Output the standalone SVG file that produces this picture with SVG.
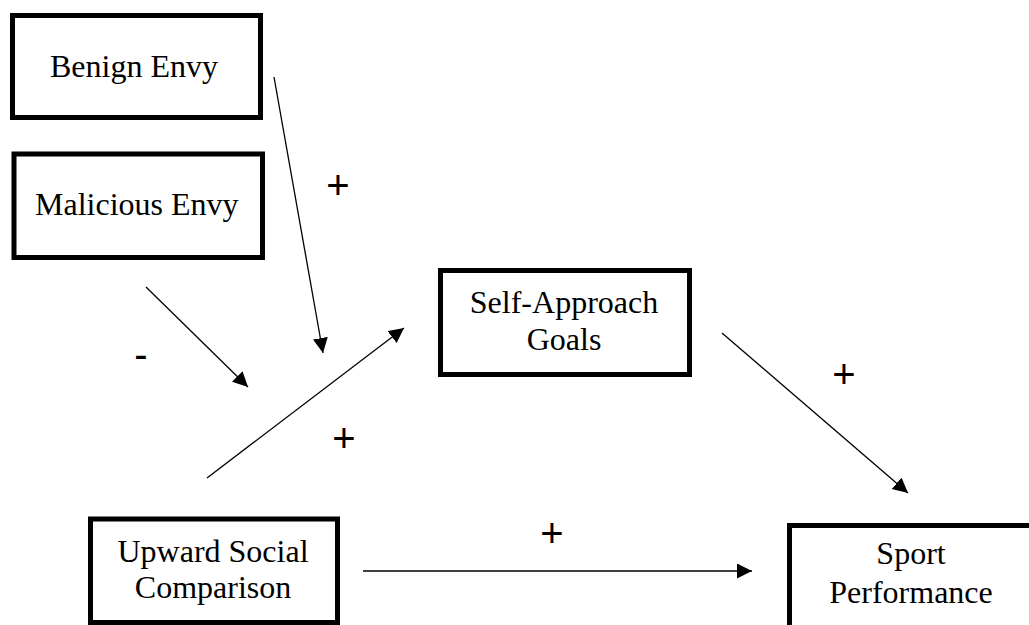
<svg xmlns="http://www.w3.org/2000/svg" width="1029" height="625" viewBox="0 0 1029 625">
<style>
.box{fill:#fff;stroke:#000;stroke-width:5}
.lbl{font-family:"Liberation Serif","Times New Roman",serif;font-size:32px;fill:#000}
.sign{font-family:"Liberation Sans",Arial,sans-serif;font-size:40px;fill:#000;text-anchor:middle}
.edge{stroke:#000;stroke-width:1.3;fill:none;marker-end:url(#ah)}
</style>
<defs>
<marker id="ah" markerUnits="userSpaceOnUse" markerWidth="16" markerHeight="16" refX="15" refY="7.5" orient="auto">
<path d="M0,0 L15,7.5 L0,15 z" fill="#000"/>
</marker>
</defs>
<rect width="1029" height="625" fill="#fff"/>
<g id="benign">
<rect class="box" x="12.5" y="15.5" width="248" height="102"/>
<text class="lbl" x="50" y="77">Benign Envy</text>
</g>
<g id="malicious">
<rect class="box" x="14" y="154" width="248.5" height="103.5"/>
<text class="lbl" x="35" y="215">Malicious Envy</text>
</g>
<g id="selfapproach">
<rect class="box" x="440.5" y="270.5" width="249" height="104"/>
<text class="lbl" x="564" y="313" text-anchor="middle">Self-Approach</text>
<text class="lbl" x="564" y="350" text-anchor="middle">Goals</text>
</g>
<g id="upward">
<rect class="box" x="90.5" y="519" width="247" height="103.5"/>
<text class="lbl" x="213" y="562" text-anchor="middle">Upward Social</text>
<text class="lbl" x="213" y="598" text-anchor="middle">Comparison</text>
</g>
<g id="sport">
<rect class="box" x="789.5" y="525.5" width="300" height="200"/>
<text class="lbl" x="911" y="564" text-anchor="middle">Sport</text>
<text class="lbl" x="911" y="603" text-anchor="middle">Performance</text>
</g>
<g id="connectors">
<line class="edge" x1="274" y1="77" x2="323" y2="353"/>
<line class="edge" x1="146" y1="287" x2="248" y2="387"/>
<line class="edge" x1="207" y1="478" x2="404" y2="328"/>
<line class="edge" x1="722" y1="333" x2="908" y2="493"/>
<line class="edge" x1="363" y1="571" x2="752" y2="571"/>
</g>
<g id="signs">
<text class="sign" x="338" y="199">+</text>
<text class="sign" x="141" y="368">-</text>
<text class="sign" x="344" y="452">+</text>
<text class="sign" x="844" y="388">+</text>
<text class="sign" x="552" y="547">+</text>
</g>
</svg>
